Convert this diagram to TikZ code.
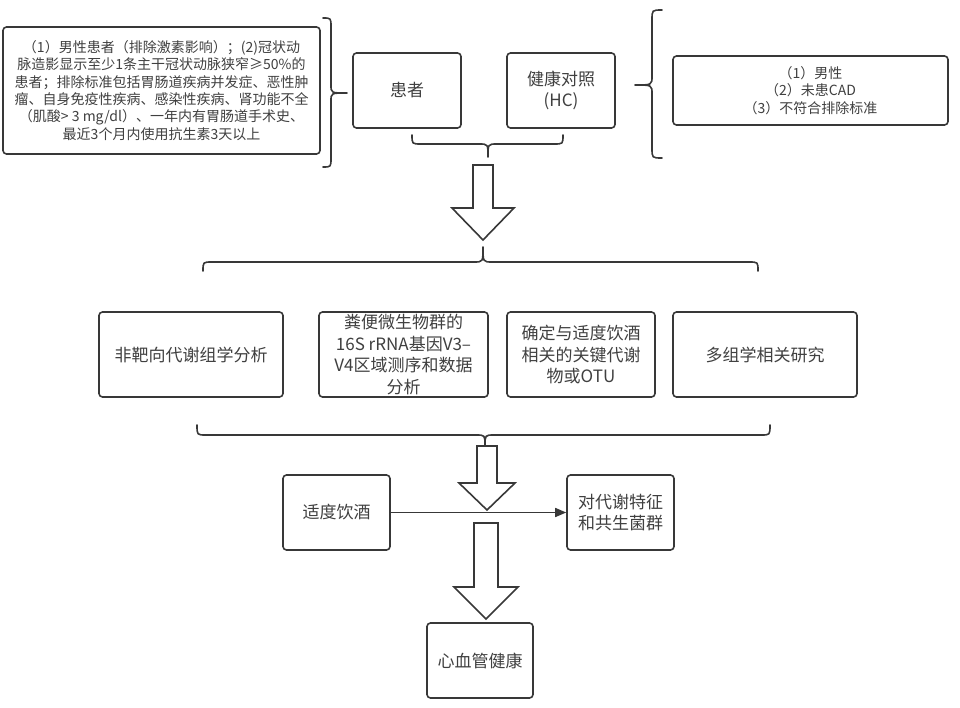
\documentclass[tikz,border=0pt]{standalone}
\usepackage{fontspec}
\setmainfont{Noto Sans CJK SC}
\usetikzlibrary{arrows.meta}
\definecolor{ink}{HTML}{383838}
\definecolor{txt}{HTML}{404040}
\begin{document}
\begin{tikzpicture}[x=1pt,y=-1pt,
  box/.style={draw=ink, line width=1.6pt, rounded corners=3.5pt, fill=white, text=txt,
    align=center, inner sep=0pt, font=\fontsize{17}{21.7}\selectfont},
  smallbox/.style={box, font=\fontsize{14}{17.3}\selectfont},
  bracepath/.style={draw=ink, line width=1.6pt, line cap=round, line join=round},
  blockarrow/.style={draw=ink, line width=1.6pt, fill=white, line join=miter},
  link/.style={draw=ink, line width=1.6pt, -{Triangle[length=11pt,width=9pt]}}]
\useasboundingbox[fill=white] (0,0) rectangle (960,708);

% top row
\node[smallbox, minimum width=317, minimum height=127] (crit) at (161.5,90.5)
  {（1）男性患者（排除激素影响）；(2)冠状动\\脉造影显示至少1条主干冠状动脉狭窄≥50\%的\\患者；排除标准包括胃肠道疾病并发症、恶性肿\\瘤、自身免疫性疾病、感染性疾病、肾功能不全\\（肌酸> 3 mg/dl）、一年内有胃肠道手术史、\\最近3个月内使用抗生素3天以上};
\node[box, minimum width=108, minimum height=75] (pat) at (407,90.5) {患者};
\node[box, minimum width=108, minimum height=75] (hc) at (561,90.5) {健康对照\\(HC)};
\node[smallbox, minimum width=275, minimum height=69] (hccrit) at (810.5,90.5)
  {（1）男性\\（2）未患CAD\\（3）不符合排除标准};

% braces top
\draw[bracepath] (323,18) .. controls (331,18) .. (331,27) -- (331,85)
  .. controls (331,93) .. (347,93) .. controls (331,93) .. (331,101) -- (331,158)
  .. controls (331,167) .. (323,167);
\draw[bracepath] (412,135) .. controls (412,144) .. (421,144) -- (479,144)
  .. controls (488,144) .. (488,157) .. controls (488,144) .. (497,144) -- (554,144)
  .. controls (563,144) .. (563,135);
\draw[bracepath] (662,10) .. controls (652,10) .. (652,20) -- (652,76)
  .. controls (652,85) .. (635,85) .. controls (652,85) .. (652,94) -- (652,148)
  .. controls (652,158) .. (662,158);

% block arrow 1
\draw[blockarrow] (473,165) -- (493,165) -- (493,208) -- (514,208) -- (483,240)
  -- (452,208) -- (473,208) -- cycle;

% big brace
\draw[bracepath] (203,271) .. controls (203,262) .. (212,262) -- (474,262)
  .. controls (483,262) .. (483,247) .. controls (483,262) .. (492,262) -- (749,262)
  .. controls (758,262) .. (758,271);

% second row
\node[box, minimum width=184, minimum height=85] (b1) at (191,354.5) {非靶向代谢组学分析};
\node[box, minimum width=169, minimum height=85, fill=none] (b2) at (403.5,354.5)
  {粪便微生物群的\\16S rRNA基因V3–\\V4区域测序和数据\\分析};
\node[box, minimum width=148, minimum height=85] (b3) at (581,354.5)
  {确定与适度饮酒\\相关的关键代谢\\物或OTU};
\node[box, minimum width=184, minimum height=85] (b4) at (765,354.5) {多组学相关研究};

% lower brace
\draw[bracepath] (197,425) .. controls (197,435) .. (206,435) -- (476,435)
  .. controls (485,435) .. (485,446) .. controls (485,435) .. (494,435) -- (761,435)
  .. controls (770,435) .. (770,425);

% block arrow 2
\draw[blockarrow] (477,446) -- (497,446) -- (497,483) -- (515,483) -- (487,510)
  -- (459,483) -- (477,483) -- cycle;

% third row
\node[box, minimum width=107, minimum height=75] (drink) at (336.5,512.5) {适度饮酒};
\node[box, minimum width=107, minimum height=75] (feat) at (620.5,512.5)
  {对代谢特征\\和共生菌群};
\draw[link] (drink) -- (feat);

% block arrow 3
\draw[blockarrow] (474,523) -- (498,523) -- (498,587) -- (518,587) -- (486,619)
  -- (454,587) -- (474,587) -- cycle;

\node[box, minimum width=106, minimum height=75] (cvd) at (480,660.5) {心血管健康};
\end{tikzpicture}
\end{document}
